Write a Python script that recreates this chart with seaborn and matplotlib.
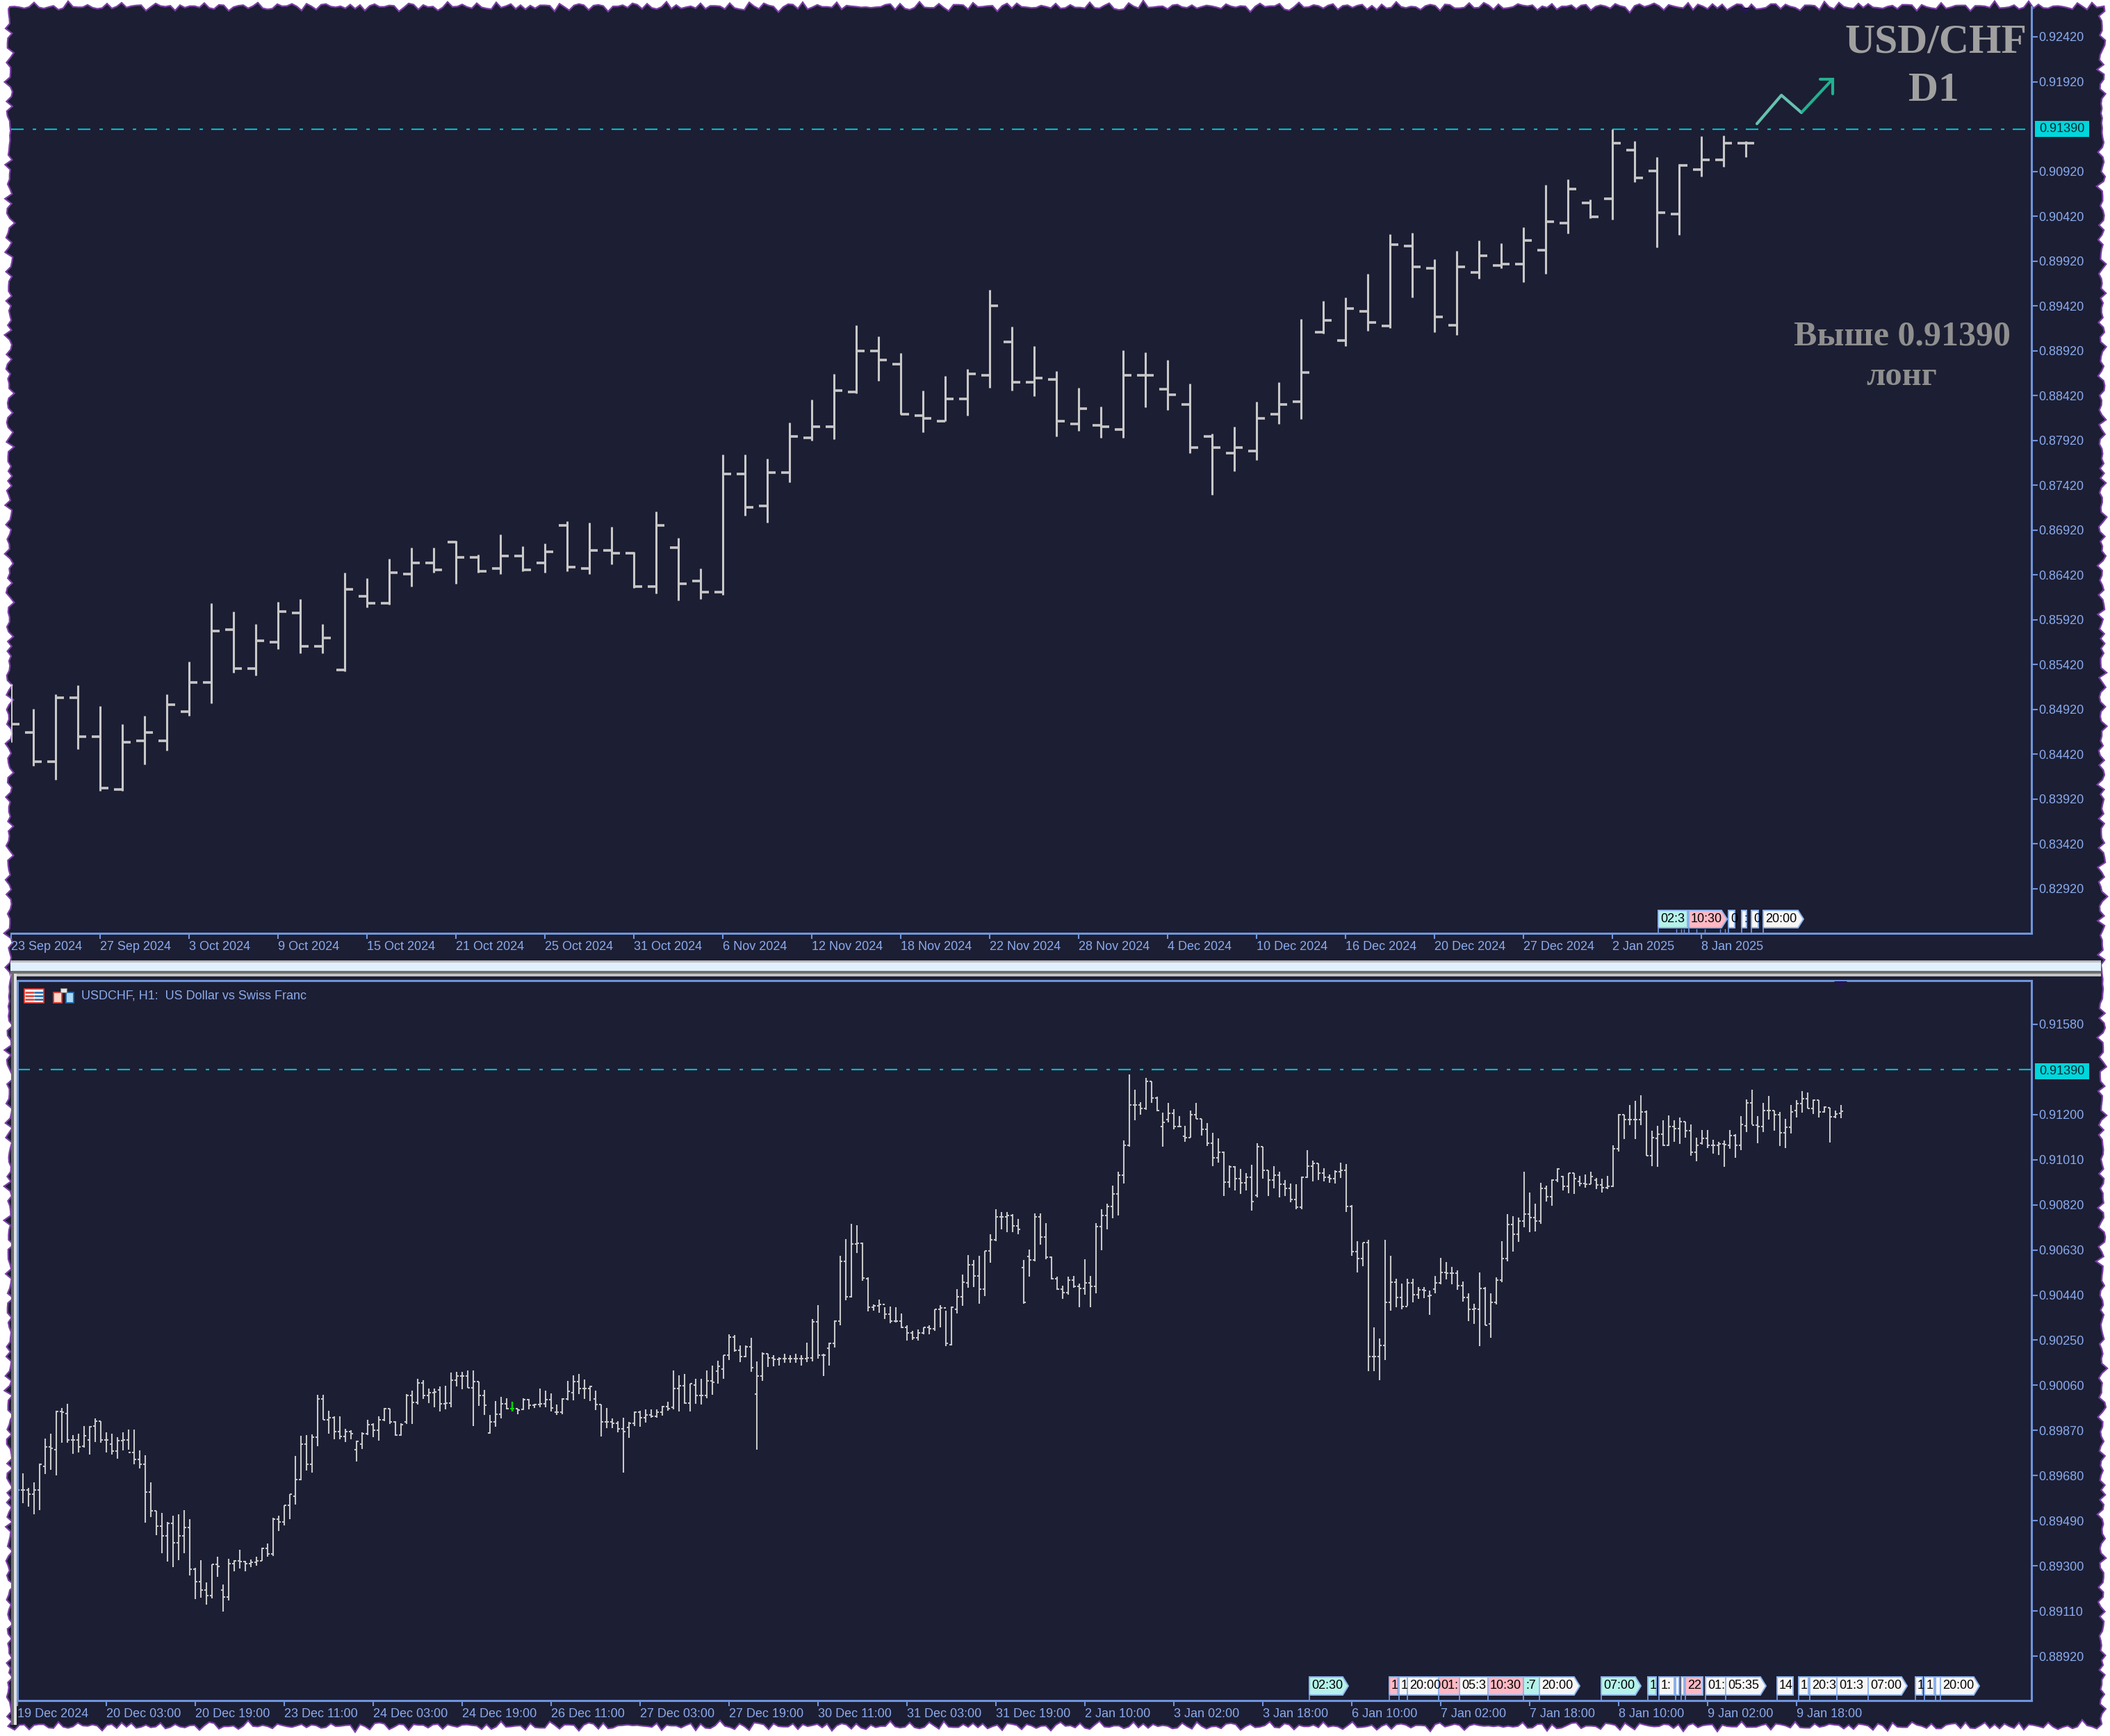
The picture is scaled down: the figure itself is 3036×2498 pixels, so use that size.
import numpy as np
import pandas as pd
import matplotlib.pyplot as plt
from matplotlib.patches import Polygon, Rectangle
import seaborn as sns

# daily bars, price in points (1e-5)
d1_high = [85205,84923,85092,85190,84956,84754,84849,85092,85454,86103,
           86008,85872,86118,86151,85872,86447,86382,86599,86723,86723,
           86800,86646,86875,86738,86771,87020,87002,86958,86676,87127,
           86830,86492,87761,87761,87714,88117,88378,88662,89204,89080,
           88894,88473,88642,88719,89600,89185,88968,88689,88503,88301,
           88924,88903,88814,88553,87992,88072,88348,88568,89277,89478,
           89511,89775,90223,90238,89941,90036,90146,90116,90300,90766,
           90828,90608,91390,91261,91077,91000,91308,91323,91261]
d1_low = [84552,84294,84137,84475,84012,84012,84306,84460,84849,84988,
          85329,85297,85593,85546,85546,85347,86056,86089,86290,86444,
          86320,86444,86430,86459,86444,86459,86430,86536,86275,86213,
          86136,86151,86198,87079,87005,87450,87919,87933,88444,88584,
          88212,88013,88132,88197,88505,88473,88414,87963,88025,87948,
          87948,88289,88256,87776,87313,87574,87699,88102,88161,89111,
          88968,89140,89170,89511,89125,89096,89727,89837,89683,89778,
          90226,90398,90380,90798,90069,90208,90860,90967,91077]
d1_open = [84911,84662,84336,85050,84617,84027,84570,84570,84896,85222,
           85810,85377,85670,85997,85626,85362,86184,86103,86430,86554,
           86789,86616,86492,86631,86554,86972,86489,86694,86661,86290,
           86723,86353,86228,87545,87189,87563,87948,88073,88458,88917,
           88767,88197,88132,88381,88645,89016,88568,88597,88102,88087,
           88040,88645,88488,88319,87963,87776,87805,88212,88348,89125,
           89030,89357,89200,90086,89837,89203,89793,89867,89885,90039,
           90347,90564,90611,91154,90923,90442,90938,91047,91231]
d1_close = [84754,84336,85050,84617,84042,84555,84662,84973,85222,85798,
            85377,85685,86011,85626,85718,86261,86103,86447,86554,86474,
            86616,86459,86631,86474,86679,86507,86694,86661,86290,86972,
            86320,86228,87545,87174,87563,87963,88073,88473,88917,88814,
            88212,88167,88381,88660,89419,88568,88612,88135,88271,88072,
            88645,88645,88428,87838,87838,87838,88164,88319,88675,89262,
            89389,89232,90101,89852,89294,89852,89977,89885,90146,90362,
            90721,90410,91231,90843,90457,90985,91047,91231,91231]

# hourly bars
h1_high = [89661,89690,89627,89652,89731,89837,89856,89954,89965,89983,
           89851,89856,89890,89890,89920,89908,89861,89856,89842,89861,
           89873,89873,89786,89767,89651,89533,89523,89486,89510,89517,
           89534,89497,89291,89323,89229,89305,89339,89222,89330,89325,
           89369,89320,89327,89339,89378,89393,89503,89510,89556,89603,
           89762,89848,89851,89854,90019,90019,89954,89929,89931,89876,
           89871,89827,89861,89915,89900,89929,89965,89962,89910,89900,
           90022,90037,90088,90082,90046,90046,90056,90058,90115,90118,
           90118,90124,90124,90076,90041,89936,89995,90012,90007,89990,
           89963,90007,90004,89983,90048,90037,90025,89978,90007,90079,
           90102,90108,90085,90059,90037,89978,89966,89920,89908,89924,
           89905,89949,89954,89959,89959,89959,89973,89991,90124,90102,
           90107,90066,90088,90088,90124,90142,90165,90188,90275,90271,
           90229,90229,90259,90160,90199,90193,90188,90178,90193,90186,
           90193,90188,90241,90339,90399,90193,90239,90334,90604,90675,
           90739,90734,90661,90514,90402,90422,90388,90392,90388,90363,
           90314,90290,90295,90305,90314,90381,90397,90375,90392,90464,
           90527,90609,90587,90604,90626,90697,90802,90790,90790,90780,
           90761,90587,90633,90784,90784,90743,90602,90517,90480,90517,
           90521,90488,90592,90521,90743,90802,90824,90902,90960,91090,
           91370,91306,91253,91353,91340,91275,91207,91248,91223,91194,
           91153,91218,91248,91182,91165,91124,91101,91043,90987,90982,
           90970,90955,90989,91078,91065,90966,90984,90958,90924,90909,
           90907,90940,91049,91007,90995,90973,90948,90966,90997,90992,
           90819,90667,90661,90673,90305,90258,90673,90604,90509,90487,
           90509,90508,90475,90475,90459,90521,90597,90580,90558,90544,
           90498,90446,90404,90534,90475,90446,90514,90667,90780,90773,
           90765,90960,90872,90826,90914,90901,90927,90973,90943,90953,
           90953,90943,90948,90960,90934,90929,90943,91072,91202,91200,
           91241,91258,91282,91216,91131,91153,91177,91195,91177,91187,
           91171,91158,91104,91135,91135,91094,91085,91090,91135,91116,
           91194,91263,91304,91194,91248,91277,91216,91211,91182,91241,
           91260,91299,91292,91263,91260,91234,91229,91216,91241]
h1_low = [89574,89564,89549,89517,89534,89686,89703,89681,89819,89817,
          89773,89778,89798,89768,89822,89817,89778,89770,89751,89786,
          89788,89729,89710,89481,89505,89429,89354,89318,89294,89325,
          89354,89261,89161,89167,89138,89164,89255,89107,89154,89276,
          89289,89276,89296,89300,89320,89339,89341,89447,89471,89498,
          89559,89661,89700,89692,89803,89915,89856,89832,89832,89822,
          89832,89739,89793,89851,89842,89827,89910,89897,89849,89849,
          89897,89897,89978,90002,89985,89968,89949,89959,89968,90056,
          90043,90051,89890,89973,89934,89856,89885,89920,89959,89949,
          89939,89957,89959,89965,89968,89968,89951,89934,89939,89998,
          89998,90022,90004,89993,89956,89845,89881,89881,89861,89692,
          89839,89890,89885,89903,89924,89924,89932,89954,89959,89949,
          89983,89949,89983,89978,90007,90020,90066,90088,90168,90202,
          90158,90178,90118,89790,90079,90137,90139,90144,90154,90154,
          90154,90142,90158,90160,90173,90100,90142,90219,90313,90417,
          90430,90617,90500,90371,90375,90365,90339,90322,90324,90300,
          90248,90251,90248,90275,90275,90290,90303,90225,90229,90363,
          90394,90470,90475,90405,90436,90576,90667,90716,90704,90704,
          90697,90405,90517,90583,90651,90592,90505,90461,90424,90441,
          90472,90388,90441,90388,90446,90629,90716,90763,90775,90909,
          91065,91177,91200,91219,91249,91213,91065,91168,91138,91146,
          91085,91104,91182,91112,91067,90984,90997,90856,90893,90880,
          90865,90880,90797,90851,90929,90856,90890,90851,90856,90831,
          90802,90802,90934,90919,90924,90919,90914,90909,90934,90790,
          90605,90534,90563,90119,90119,90082,90166,90375,90388,90381,
          90394,90410,90424,90427,90358,90446,90485,90505,90485,90463,
          90412,90329,90319,90225,90313,90259,90402,90495,90583,90622,
          90663,90724,90704,90709,90739,90833,90817,90917,90880,90870,
          90865,90898,90892,90907,90885,90873,90885,90895,91044,91096,
          91155,91096,91155,91026,90984,90979,91067,91067,91085,91077,
          91104,91026,91002,91075,91060,91036,91031,90979,91055,91018,
          91049,91126,91158,91078,91126,91179,91131,91067,91060,91119,
          91189,91207,91226,91202,91187,91207,91083,91185,91184]
h1_open = [89619,89619,89619,89603,89619,89720,89801,89788,89949,89941,
           89829,89829,89805,89829,89890,89908,89829,89812,89783,89827,
           89829,89778,89749,89729,89612,89533,89468,89425,89478,89398,
           89427,89461,89286,89232,89198,89174,89305,89198,89169,89310,
           89320,89318,89310,89315,89320,89374,89349,89497,89484,89554,
           89593,89664,89812,89728,89842,90004,89915,89923,89866,89846,
           89866,89788,89812,89856,89895,89871,89915,89962,89905,89851,
           89905,90017,89988,90071,90017,90029,90040,89983,89985,90082,
           90100,90100,90051,90076,90017,89858,89905,89939,89981,89963,
           89963,89959,90001,89975,89978,89981,90001,89946,89946,90002,
           90030,90076,90048,90048,90004,89978,89905,89905,89900,89876,
           89884,89900,89946,89923,89934,89929,89946,89971,89969,90046,
           90059,89985,90061,90017,90017,90080,90121,90129,90186,90264,
           90209,90180,90222,90022,90098,90193,90176,90170,90173,90173,
           90173,90173,90173,90176,90327,90186,90217,90238,90329,90583,
           90434,90654,90658,90508,90388,90394,90402,90361,90329,90331,
           90303,90280,90261,90280,90303,90299,90380,90385,90232,90380,
           90434,90490,90566,90521,90466,90626,90673,90770,90768,90775,
           90731,90555,90602,90589,90770,90683,90600,90508,90466,90449,
           90503,90477,90468,90490,90478,90729,90776,90812,90865,90946,
           91070,91239,91239,91226,91340,91270,91151,91179,91204,91151,
           91109,91104,91199,91182,91138,91080,91018,91041,90916,90979,
           90929,90912,90937,90860,91065,90966,90924,90946,90907,90890,
           90841,90810,90937,90982,90995,90953,90937,90929,90960,90965,
           90814,90622,90595,90661,90180,90180,90227,90409,90495,90431,
           90392,90490,90443,90461,90436,90466,90492,90534,90532,90531,
           90480,90431,90380,90380,90468,90319,90409,90502,90595,90736,
           90695,90753,90782,90765,90753,90888,90853,90924,90940,90899,
           90953,90919,90909,90907,90925,90904,90892,90899,91057,91200,
           91180,91180,91180,91210,91028,91099,91116,91070,91150,91140,
           91171,91133,91041,91080,91099,91070,91070,91077,91070,91111,
           91070,91153,91250,91156,91151,91216,91216,91200,91124,91146,
           91216,91246,91268,91226,91260,91210,91229,91192,91204]
h1_close = [89619,89619,89603,89619,89728,89801,89795,89949,89946,89829,
            89829,89800,89848,89887,89908,89829,89829,89783,89827,89829,
            89778,89749,89729,89612,89533,89468,89425,89478,89398,89427,
            89461,89286,89232,89198,89174,89305,89298,89169,89310,89320,
            89318,89310,89315,89320,89374,89349,89497,89484,89554,89601,
            89664,89812,89728,89842,90004,89915,89923,89866,89846,89866,
            89856,89824,89856,89895,89871,89915,89962,89905,89851,89895,
            90017,89988,90071,90017,90029,90032,89983,89985,90082,90100,
            90100,90051,90076,90017,89975,89905,89939,89981,89963,89963,
            89957,90001,89975,89978,89981,90001,89965,89946,90002,90034,
            90076,90048,90048,90056,89978,89905,89905,89900,89878,89864,
            89900,89946,89923,89934,89929,89946,89971,89962,90046,90059,
            89985,90066,90017,90017,90080,90073,90139,90186,90264,90209,
            90180,90222,90134,90098,90193,90176,90170,90173,90173,90173,
            90173,90173,90176,90327,90186,90188,90238,90329,90583,90434,
            90654,90658,90511,90388,90394,90402,90361,90329,90331,90303,
            90280,90261,90280,90303,90299,90380,90385,90238,90388,90434,
            90495,90566,90521,90466,90626,90673,90770,90768,90775,90731,
            90717,90409,90589,90770,90683,90600,90508,90466,90449,90503,
            90477,90468,90490,90478,90729,90776,90812,90865,90946,91070,
            91239,91239,91226,91340,91270,91218,91168,91204,91151,91151,
            91104,91199,91182,91138,91080,91018,91041,90916,90979,90929,
            90912,90937,90834,91065,90966,90924,90946,90907,90890,90841,
            90810,90937,90982,90995,90953,90937,90929,90960,90965,90814,
            90622,90595,90661,90180,90180,90227,90409,90495,90431,90392,
            90490,90443,90461,90459,90439,90492,90534,90532,90531,90480,
            90431,90380,90383,90468,90314,90409,90502,90595,90736,90695,
            90753,90782,90765,90753,90888,90853,90924,90970,90899,90953,
            90929,90909,90907,90938,90904,90892,90897,91057,91200,91180,
            91180,91180,91210,91028,91104,91116,91070,91150,91140,91171,
            91133,91041,91070,91099,91070,91070,91077,91073,91111,91070,
            91158,91250,91156,91151,91216,91216,91200,91124,91146,91211,
            91246,91268,91226,91262,91210,91231,91192,91202,91214]

d1_dates = ['23 Sep 2024', '27 Sep 2024', '3 Oct 2024', '9 Oct 2024', '15 Oct 2024', '21 Oct 2024',
            '25 Oct 2024', '31 Oct 2024', '6 Nov 2024', '12 Nov 2024', '18 Nov 2024', '22 Nov 2024',
            '28 Nov 2024', '4 Dec 2024', '10 Dec 2024', '16 Dec 2024', '20 Dec 2024', '27 Dec 2024',
            '2 Jan 2025', '8 Jan 2025']
h1_dates = ['19 Dec 2024', '20 Dec 03:00', '20 Dec 19:00', '23 Dec 11:00', '24 Dec 03:00', '24 Dec 19:00',
            '26 Dec 11:00', '27 Dec 03:00', '27 Dec 19:00', '30 Dec 11:00', '31 Dec 03:00', '31 Dec 19:00',
            '2 Jan 10:00', '3 Jan 02:00', '3 Jan 18:00', '6 Jan 10:00', '7 Jan 02:00', '7 Jan 18:00',
            '8 Jan 10:00', '9 Jan 02:00', '9 Jan 18:00']
d1_price_ticks = [0.92420, 0.91920] + [0.90920 - 0.005 * k for k in range(17)]
h1_price_ticks = [0.91580] + [0.91200 - 0.0019 * k for k in range(12)] + [0.88920]
level = 0.91390
arrow_bar = [78.5, 79.6, 80.5, 81.9]
arrow_price = [0.91451, 0.91769, 0.91575, 0.91947]

# calendar flags along the time axis
d1_flag_text = ['02:3', '10:30', '0', ':', '0', '20:00']
d1_flag_kind = ['c', 'p', 'w', 'w', 'w', 'w']
h1_flag_text = ['02:30', '1', '1', '20:00', '01:', '05:3', '10:30', ':7', '20:00', '07:00', '1', '1:', '', '',
                '22', '01:', '05:35', '14', '1', '20:3', '01:3', '07:00', '1', '1', '', '20:00']
h1_flag_kind = ['c', 'p', 'w', 'w', 'p', 'w', 'p', 'c', 'w', 'c', 'c', 'w', 'w', 'w',
                'p', 'w', 'w', 'w', 'w', 'w', 'w', 'w', 'w', 'w', 'w', 'w']

W, H = 3036, 2498
DARK = '#1c1e33'
BLUE = '#6f94dc'
LABEL = '#8aabee'
BARS = '#c8c8c8'
TEAL = '#00b8c4'
KIND = {'c': '#b4f2ea', 'p': '#ffb8c4', 'w': '#f6f6f6'}

sns.set_theme(style='dark', rc={'axes.facecolor': 'none', 'figure.facecolor': 'white'})
plt.rcParams['font.family'] = ['Liberation Sans', 'DejaVu Sans']

fig = plt.figure(figsize=(W / 100, H / 100), dpi=100)


def px_axes(left, top, right, bottom):
    return fig.add_axes([left / W, 1 - bottom / H, (right - left) / W, (bottom - top) / H])


def bars_frame(high, low, op, close):
    return pd.DataFrame({'bar': np.arange(len(high)), 'high': np.array(high) / 1e5, 'low': np.array(low) / 1e5,
                         'open': np.array(op) / 1e5, 'close': np.array(close) / 1e5})


def draw_bars(ax, df, stem_lw, tick_lw, tick_len):
    long = df.melt(id_vars='bar', value_vars=['low', 'high'], value_name='price')
    sns.lineplot(data=long, x='bar', y='price', units='bar', estimator=None, color=BARS,
                 linewidth=stem_lw, legend=False, solid_capstyle='butt', ax=ax)
    ax.hlines(df['open'], df['bar'] - tick_len, df['bar'], color=BARS, lw=tick_lw)
    ax.hlines(df['close'], df['bar'], df['bar'] + tick_len, color=BARS, lw=tick_lw)


def style_axes(ax, dates, every, price_ticks):
    ax.set_xlabel('')
    ax.set_ylabel('')
    ax.grid(False)
    ax.yaxis.tick_right()
    ax.set_yticks(price_ticks)
    ax.set_yticklabels([f'{p:.5f}' for p in price_ticks])
    ax.set_xticks(np.arange(len(dates)) * every)
    ax.set_xticklabels(dates, ha='left')
    ax.tick_params(axis='x', colors=LABEL, labelsize=13, length=6, width=1.5, pad=2, color=BLUE, bottom=True)
    ax.tick_params(axis='y', colors=LABEL, labelsize=13, length=6.5, width=1.5, pad=1, color=BLUE, right=True)
    for side in ax.spines:
        ax.spines[side].set_color(BLUE)
        ax.spines[side].set_linewidth(2.2)
    ax.axhline(level, color=TEAL, lw=1.6, linestyle=(0, (8.1, 5.9, 2.2, 5.4)), zorder=1)


# white page with the torn dark sheet on it
bg = fig.add_axes([0, 0, 1, 1], zorder=-1)
bg.set_xlim(0, W)
bg.set_ylim(H, 0)
bg.axis('off')
wobble_a = [0, 2, -1, 3, 1, -3, 0, 4, -2, 1, 5, 2, -4, 0, 3, -1, -2, 2, 6, 1, -3, 0, 2, -5, 1, 3, -2, 0, 4, 1, -4, 2, -1, 0, 3]
wobble_b = [1, -2, 3, 0, 0, -3, 2, -1, 4, -2, 0, 1, -4]
steps = [(x, 9, 0, 1) for x in range(14, 3024, 7)] + [(3024, y, 1, 0) for y in range(9, 2484, 7)] \
    + [(x, 2484, 0, -1) for x in range(3024, 14, -7)] + [(13, y, 1, 0) for y in range(2484, 9, -7)]
outline = []
for k, (x, y, dx, dy) in enumerate(steps):
    w = wobble_a[k % len(wobble_a)] + 0.8 * wobble_b[k % len(wobble_b)]
    outline.append((x + dx * w, y + dy * w))
bg.add_patch(Polygon(outline, closed=True, facecolor=DARK, edgecolor='#7a3ea6', lw=1.6))
# splitter between the two chart windows
bg.add_patch(Rectangle((15, 1382), 3008, 3, color='#bdbdbd', lw=0))
bg.add_patch(Rectangle((15, 1385), 3008, 12, color='#e0f0fc', lw=0))
bg.add_patch(Rectangle((15, 1397), 3008, 4, color='#6e6e6e', lw=0))
bg.add_patch(Rectangle((15, 1401), 3008, 4, color='#c4c4c4', lw=0))
bg.add_patch(Rectangle((16, 1397), 4, 1085, color='#6e6e6e', lw=0))
bg.add_patch(Rectangle((20, 1401), 4, 1081, color='#e0e0e0', lw=0))

# D1 window
ax_top = px_axes(16, 10, 2923, 1343)
d1 = bars_frame(d1_high, d1_low, d1_open, d1_close)
draw_bars(ax_top, d1, 2.2, 2.6, 0.36)
style_axes(ax_top, d1_dates, 4, d1_price_ticks)
ax_top.set_xlim(0, (2923 - 16) / 32)
ax_top.set_ylim(0.82424, 0.92753)
ax_top.spines['left'].set_visible(False)
ax_top.spines['top'].set_visible(False)
ax_top.plot(arrow_bar[:3], arrow_price[:3], color='#66c2b0', lw=3, solid_capstyle='round')
ax_top.plot(arrow_bar[2:], arrow_price[2:], color='#22b08f', lw=3, solid_capstyle='butt')
ax_top.plot([81.34, arrow_bar[3], arrow_bar[3]], [arrow_price[3], arrow_price[3], 0.91785], color='#22b08f', lw=3,
            solid_joinstyle='miter', solid_capstyle='round')

# H1 window
ax_low = px_axes(25, 1411, 2923, 2447)
h1 = bars_frame(h1_high, h1_low, h1_open, h1_close)
draw_bars(ax_low, h1, 1.5, 1.5, 0.42)
style_axes(ax_low, h1_dates, 16, h1_price_ticks)
ax_low.set_xlim(0, (2923 - 25) / 8)
ax_low.set_ylim(0.88733, 0.91764)
# the one bar the chart has selected
odd = h1.iloc[89]
ax_low.vlines(odd['bar'], odd['low'], odd['high'], color='#00e000', lw=1.5, zorder=4)
ax_low.hlines(odd['close'], odd['bar'] - 0.42, odd['bar'] + 0.42, color='#00e000', lw=1.5, zorder=4)

# pixel overlay: big captions, price tags, flags, window icons
ov = fig.add_axes([0, 0, 1, 1], zorder=10)
ov.set_xlim(0, W)
ov.set_ylim(H, 0)
ov.axis('off')

serif = dict(family='Liberation Serif', weight='bold', ha='center', va='center')
ov.text(2785, 61, 'USD/CHF', fontsize=43, color='#a0a0a0', **serif)
ov.text(2782, 131, 'D1', fontsize=43, color='#a0a0a0', **serif)
ov.text(2737, 484, 'Выше 0.91390', fontsize=36, color='#8f8f8f', **serif)
ov.text(2736, 542, 'лонг', fontsize=35, color='#8f8f8f', **serif)

for yc in [185.5, 1541]:
    ov.add_patch(Rectangle((2928, yc - 11.5), 78, 23, color='#00d6dc', lw=0))
    ov.text(2967, yc, f'{level:.5f}', fontsize=13, color='#06282e', ha='center', va='center')


def draw_flags(texts, kinds, starts, ends, pointed, y0, y1, axis_y):
    ym = (y0 + y1) / 2
    for text, kind, x0, x1, pt in zip(texts, kinds, starts, ends, pointed):
        ov.plot([x0, x0], [y1, axis_y], color=BLUE, lw=1.3)
        if pt:
            shape = [(x0, y0), (x1 - 8, y0), (x1, ym), (x1 - 8, y1), (x0, y1)]
        else:
            shape = [(x0, y0), (x1, y0), (x1, y1), (x0, y1)]
        ov.add_patch(Polygon(shape, closed=True, facecolor=KIND[kind], edgecolor='#8fb4ee', lw=1.4))
        if text:
            ov.text(x0 + 3, ym, text, fontsize=13, color='black', ha='left', va='center')


draw_flags(d1_flag_text, d1_flag_kind,
           [2386, 2430, 2487, 2506, 2520, 2537], [2428, 2485, 2496, 2513, 2530, 2595],
           [0, 1, 0, 0, 0, 1], 1310, 1335, 1342)
draw_flags(h1_flag_text, h1_flag_kind,
           [1884, 1999, 2013, 2025, 2070, 2100, 2141, 2192, 2215, 2304, 2371, 2387, 2411, 2419,
            2425, 2454, 2483, 2557, 2588, 2604, 2643, 2688, 2756, 2769, 2785, 2792],
           [1940, 2011, 2025, 2070, 2100, 2141, 2192, 2215, 2273, 2361, 2383, 2409, 2416, 2423,
            2450, 2483, 2541, 2580, 2602, 2643, 2688, 2744, 2766, 2783, 2792, 2848],
           [1, 0, 0, 0, 0, 0, 0, 0, 1, 1, 0, 0, 0, 0, 0, 0, 1, 0, 0, 0, 0, 1, 0, 0, 0, 1],
           2413, 2439, 2446)
for x in [2412, 2419, 2423, 2441, 2453, 2475, 2482]:
    ov.plot([x, x], [1337, 1342], color=BLUE, lw=1)

# window icons and caption of the H1 chart
ov.add_patch(Rectangle((35, 1423), 28, 20, facecolor='#f6f0ee', edgecolor='#e0392c', lw=1.3))
for y in [1428, 1433, 1438]:
    ov.plot([37, 48], [y, y], color='#e0392c', lw=1.8)
    ov.plot([50, 61], [y, y], color='#1c66b0', lw=1.8)
ov.add_patch(Rectangle((77, 1428), 12, 15, facecolor='#ffd8cc', edgecolor='#e0392c', lw=1.3))
ov.add_patch(Rectangle((95, 1428), 11, 15, facecolor='#a8d8f4', edgecolor='#1c66b0', lw=1.3))
ov.add_patch(Rectangle((87, 1422), 9, 6, facecolor='#e8e8e8', edgecolor='#808080', lw=0.8))
ov.text(117, 1433, 'USDCHF, H1:  US Dollar vs Swiss Franc', fontsize=13, color=LABEL, ha='left', va='center')

ov.add_patch(Polygon([(2639, 1412), (2658, 1412), (2648, 1422)], closed=True, color='#24164f', lw=0))
ov.add_patch(Polygon([(2502, 11), (2520, 11), (2511, 20)], closed=True, color='#24164f', lw=0))

fig.savefig('out.png', dpi=100)
